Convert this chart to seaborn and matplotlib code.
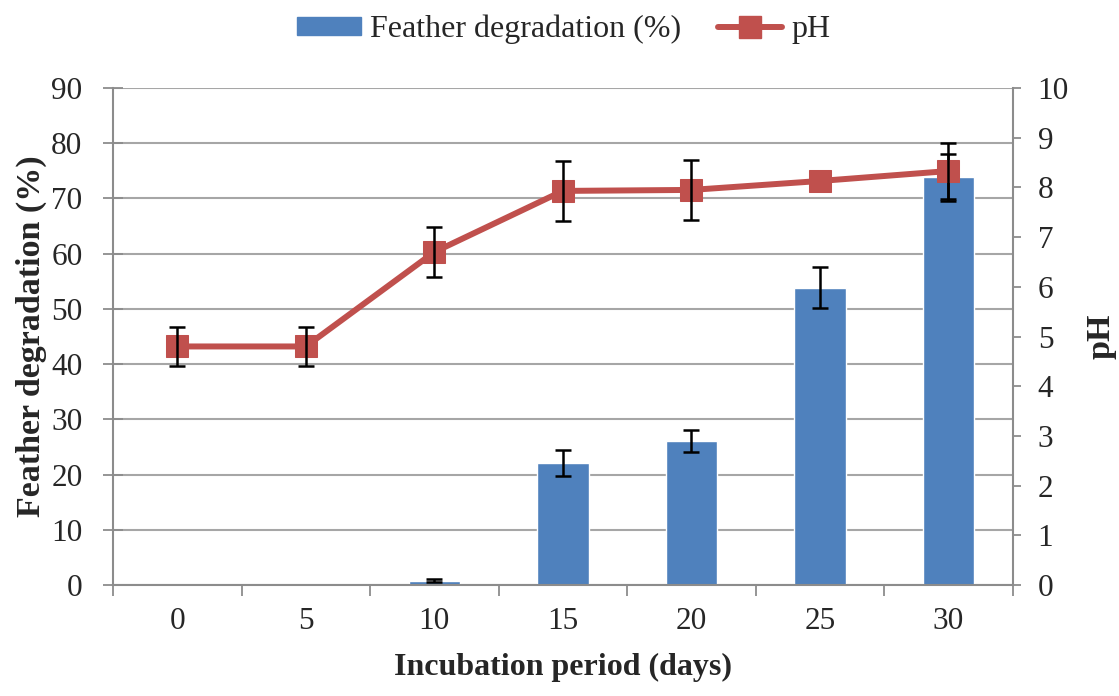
import numpy as np
import pandas as pd
import matplotlib
matplotlib.use("Agg")
import matplotlib.pyplot as plt
import seaborn as sns
from matplotlib.patches import Patch
from matplotlib.lines import Line2D

# Incubation time points and measurements
days = ["0", "5", "10", "15", "20", "25", "30"]
degradation = [0.0, 0.0, 0.8, 22.1, 26.1, 53.8, 73.8]
degradation_err = [0.0, 0.0, 0.3, 2.3, 2.0, 3.7, 4.2]
ph = [4.80, 4.80, 6.70, 7.93, 7.95, 8.13, 8.33]
ph_err = [0.40, 0.40, 0.50, 0.60, 0.60, 0.0, 0.57]

BLUE = "#4F81BD"
RED = "#C0504D"
GRID = "#A6A6A6"
AXIS = "#8C8C8C"

sns.set_theme(style="white")
plt.rcParams["font.family"] = ["Liberation Serif", "DejaVu Serif"]

df = pd.DataFrame({"day": days, "deg": degradation, "ph": ph})
pos = np.arange(len(days))

fig = plt.figure(figsize=(11.19, 6.96), dpi=100)
ax = fig.add_axes([0.101, 0.1595, 0.804, 0.714])

sns.barplot(data=df, x="day", y="deg", color=BLUE, width=0.4,
            saturation=1, ax=ax, zorder=2, errorbar=None)
mask = np.array(degradation_err) > 0
ax.errorbar(pos[mask], np.array(degradation)[mask], yerr=np.array(degradation_err)[mask],
            fmt="none", ecolor="black", elinewidth=1.8, capsize=5.5, capthick=1.8, zorder=3)

ax.set_ylim(0, 90)
ax.set_yticks(np.arange(0, 91, 10))
ax.set_xlim(-0.5, len(days) - 0.5)
ax.yaxis.grid(True, color=GRID, linewidth=1.5)
ax.set_axisbelow(True)

ax.set_xlabel("Incubation period (days)", fontsize=23, fontweight="bold", labelpad=12)
ax.set_ylabel("Feather degradation (%)", fontsize=24.5, fontweight="bold", labelpad=3)
ax.tick_params(axis="x", length=0, labelsize=22.5, pad=16)
ax.set_xticks(np.arange(-0.5, len(days), 1.0), minor=True)
ax.tick_params(axis="x", which="minor", length=8, width=1.3, color=AXIS, direction="out", bottom=True)
ax.tick_params(axis="y", labelsize=22.5, length=14, width=1.3, color=AXIS, left=True,
               direction="inout", pad=15)

for side in ["left", "bottom"]:
    ax.spines[side].set_color(AXIS)
    ax.spines[side].set_linewidth(1.5)
ax.spines["top"].set_visible(False)
ax.spines["right"].set_visible(False)

ax2 = ax.twinx()
sns.lineplot(x=pos, y=ph, ax=ax2, color=RED, linewidth=4.3, marker="s",
             markersize=16.5, markeredgecolor=RED, zorder=4)
pmask = np.array(ph_err) > 0
ax2.errorbar(pos[pmask], np.array(ph)[pmask], yerr=np.array(ph_err)[pmask],
             fmt="none", ecolor="black", elinewidth=1.8, capsize=5.5, capthick=1.8, zorder=5)
ax2.set_ylim(0, 10)
ax2.set_yticks(np.arange(0, 11, 1))
ax2.set_ylabel("pH", fontsize=24.5, fontweight="bold", labelpad=12)
ax2.tick_params(axis="y", labelsize=22.5, length=6, width=1.3, color=AXIS, right=True,
                direction="out", pad=12)
ax2.grid(False)
ax2.spines["right"].set_color(AXIS)
ax2.spines["right"].set_linewidth(1.5)
for side in ["left", "top", "bottom"]:
    ax2.spines[side].set_visible(False)

handles = [Patch(facecolor=BLUE, edgecolor=BLUE),
           Line2D([0], [0], color=RED, linewidth=4.3, marker="s", markersize=16.5)]
fig.legend(handles, ["Feather degradation (%)", "pH"], loc="upper center",
           bbox_to_anchor=(0.504, 1.02), ncol=2, frameon=False, fontsize=23,
           handlelength=2.0, handleheight=0.5, columnspacing=1.15, handletextpad=0.3)

fig.savefig("out.png", dpi=100, facecolor="white")
